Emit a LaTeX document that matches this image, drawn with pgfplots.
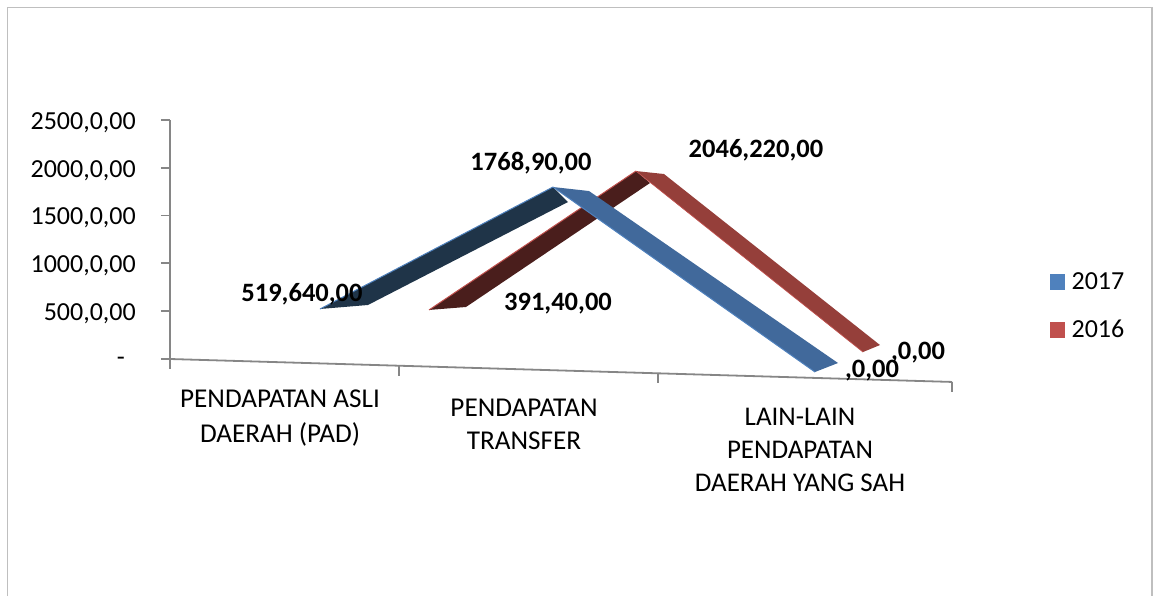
\documentclass[border=0pt]{standalone}
\usepackage{fontspec}
\setmainfont{Carlito}
\usepackage{pgfplots}
\pgfplotsset{compat=1.18}

\definecolor{axisgray}{HTML}{868686}
\definecolor{framegray}{HTML}{BFBFBF}
\definecolor{blueedge}{HTML}{4F81BD}
\definecolor{bluefront}{HTML}{41699B}
\definecolor{bluedark}{HTML}{1F3448}
\definecolor{rededge}{HTML}{C0504D}
\definecolor{redfront}{HTML}{953F3A}
\definecolor{reddark}{HTML}{4A1E1C}

\begin{document}
\begin{tikzpicture}[x=1pt,y=1pt]
\begin{axis}[
  at={(0pt,0pt)}, anchor=origin,
  scale only axis,
  width=782pt, height=239pt,
  xmin=170, xmax=952, ymin=0, ymax=2500,
  clip=false,
  axis x line=none,
  axis y line=left,
  axis line style={-, draw=axisgray, line width=1.8pt},
  tick style={draw=axisgray, line width=1.8pt},
  tick align=outside,
  major tick length=9pt,
  xtick=\empty,
  ytick={0,500,1000,1500,2000,2500},
  yticklabels={{\raisebox{-3pt}{-}\kern11pt},{500,0,00},{1000,0,00},{1500,0,00},{2000,0,00},{2500,0,00}},
  yticklabel style={font=\fontsize{26}{30}\selectfont, xshift=-23pt, yshift=-2.5pt, inner sep=2pt},
  legend style={
    at={(axis cs:1050,926)}, anchor=north west, draw=none, fill=none,
    font=\fontsize{26}{30}\selectfont, row sep=25pt, inner sep=0pt,
    /tikz/every odd column/.append style={column sep=5pt},
  },
  legend cell align=left,
]

% slanted category axis
\addplot[forget plot, draw=axisgray, line width=1.8pt] coordinates {(170,0) (952,-240)};
\addplot[forget plot, draw=axisgray, line width=1.8pt] coordinates {(170,0) (170,-105)};
\addplot[forget plot, draw=axisgray, line width=1.8pt] coordinates {(399,-70) (399,-178)};
\addplot[forget plot, draw=axisgray, line width=1.8pt] coordinates {(658,-150) (658,-251)};
\addplot[forget plot, draw=axisgray, line width=1.8pt] coordinates {(952,-240) (952,-345)};

% 2016 ribbon
\addplot[forget plot, fill=reddark, draw=none] coordinates {(429,513) (636,1966) (650,1841) (466,544)} -- cycle;
\addplot[forget plot, draw=rededge, line width=1pt] coordinates {(429,513) (636,1966)};
\addplot[forget plot, fill=redfront, draw=none] coordinates {(636,1966) (664,1935) (880,146) (863,73)} -- cycle;
\addplot[forget plot, draw=rededge, line width=0.7pt] coordinates {(636,1966) (863,73)};

% 2017 ribbon
\addplot[forget plot, fill=bluedark, draw=none] coordinates {(320,523) (553,1799) (568,1642) (368,565)} -- cycle;
\addplot[forget plot, draw=blueedge, line width=1pt] coordinates {(320,523) (553,1799)};
\addplot[forget plot, fill=bluefront, draw=none] coordinates {(553,1799) (589,1757) (838,-42) (815,-136)} -- cycle;
\addplot[forget plot, draw=blueedge, line width=1pt] coordinates {(553,1799) (815,-136)};

\addlegendimage{only marks, mark=square*, mark size=7.2pt, mark options={draw=blueedge, fill=blueedge}}
\addlegendentry{2017}
\addlegendimage{only marks, mark=square*, mark size=7.2pt, mark options={draw=rededge, fill=rededge}}
\addlegendentry{2016}

% category names
\node[font=\fontsize{27.2}{35}\selectfont, align=center] at (axis cs:280,-617) {PENDAPATAN ASLI\\DAERAH (PAD)};
\node[font=\fontsize{27.2}{33}\selectfont, align=center] at (axis cs:524,-680) {PENDAPATAN\\TRANSFER};
\node[font=\fontsize{27}{33}\selectfont, align=center] at (axis cs:800,-952) {LAIN-LAIN\\PENDAPATAN\\DAERAH YANG SAH};

% value labels
\node[font=\bfseries\fontsize{26.5}{30}\selectfont] at (axis cs:302,680) {519,640,00};
\node[font=\bfseries\fontsize{26.5}{30}\selectfont] at (axis cs:531,2051) {1768,90,00};
\node[font=\bfseries\fontsize{26.5}{30}\selectfont] at (axis cs:756,2187) {2046,220,00};
\node[font=\bfseries\fontsize{26.5}{30}\selectfont] at (axis cs:558,576) {391,40,00};
\node[font=\bfseries\fontsize{26.5}{30}\selectfont] at (axis cs:872,-125) {,0,00};
\node[font=\bfseries\fontsize{26.5}{30}\selectfont] at (axis cs:918,64) {,0,00};
\end{axis}
% chart frame, cut off at the bottom, and the page size
\draw[framegray, line width=1.2pt] (-162.5,-237) -- (-162.5,351.5) -- (982,351.5) -- (982,-237);
\path (-170,-237) rectangle (987,359);
\end{tikzpicture}
\end{document}
